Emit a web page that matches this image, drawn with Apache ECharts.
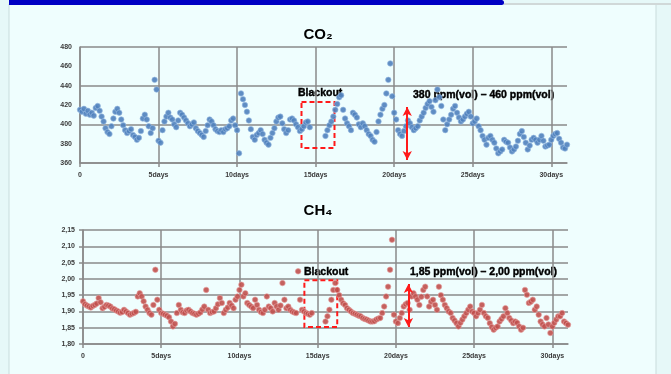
<!DOCTYPE html>
<html><head><meta charset="utf-8">
<script src="https://cdn.jsdelivr.net/npm/echarts@6/dist/echarts.min.js"></script>
<style>html,body{margin:0;padding:0;background:#e6f8f8;}#c{width:671px;height:374px;}</style>
</head><body><div id="c"></div>
<script>
// sampling step of the records (days)
const stepDays = 0.125;
const xTicks = [0, 5, 10, 15, 20, 25, 30];
const co2Ticks = [360, 380, 400, 420, 440, 460, 480];
const ch4Ticks = [1.80, 1.85, 1.90, 1.95, 2.00, 2.05, 2.10, 2.15];

const co2Values = [
415,413,416,411,414,410,412,409,
417,419,414,408,403,396,392,390,
398,406,413,416,412,405,399,394,
391,393,395,389,387,384,386,393,
406,410,405,398,391,396,446,436,
383,381,394,403,408,412,407,405,
400,397,404,412,410,407,404,401,
398,400,402,396,393,391,389,387,
393,399,405,403,399,395,393,392,
394,392,395,396,398,404,406,399,
394,370,432,426,420,413,404,395,
387,384,389,391,394,390,384,381,
379,386,391,396,403,407,408,401,
395,391,394,405,406,404,400,397,
393,395,398,402,403,397,null,null,
null,null,null,null,null,388,394,399,
403,408,415,421,428,430,415,406,
401,398,394,412,410,407,400,397,
401,398,394,390,388,384,382,392,
403,410,416,420,432,446,463,429,
412,405,394,390,388,393,398,404,
401,397,394,396,398,404,408,412,
417,421,424,418,413,425,436,428,
419,405,394,400,405,410,416,419,
412,407,403,405,408,411,413,408,
401,403,406,398,394,388,384,379,
386,388,384,381,375,370,372,374,
384,382,381,376,372,374,377,383,
390,393,387,381,374,378,384,386,
384,381,384,388,383,377,378,379,
384,388,390,391,385,381,376,375,
379
];

const ch4Values = [
1.931,1.922,1.918,1.915,1.912,1.917,1.920,1.924,
1.941,1.928,1.910,1.914,1.920,1.918,1.915,1.909,
1.907,1.903,1.900,1.896,1.898,1.905,1.900,1.895,
1.890,1.893,1.895,1.899,1.946,1.956,1.946,1.931,
1.915,1.905,1.895,1.890,1.920,2.028,1.936,1.905,
1.895,1.893,1.890,1.887,1.882,1.869,1.854,1.862,
1.895,1.920,1.905,1.897,1.895,1.903,1.905,1.900,
1.895,1.893,1.890,1.893,1.897,1.906,1.915,1.966,
1.905,1.895,1.898,1.900,1.910,1.922,1.941,1.926,
1.895,1.905,1.912,1.926,1.918,1.910,1.936,1.946,
1.966,1.982,1.946,1.956,1.926,1.920,1.915,1.910,
1.936,1.920,1.905,1.898,1.895,1.905,1.946,1.915,
1.910,1.900,1.926,1.915,1.905,1.918,1.987,1.936,
1.910,1.915,1.905,1.900,1.897,1.895,2.023,1.936,
1.905,1.900,1.895,1.893,1.890,1.895,null,null,
null,null,null,null,1.869,1.885,1.905,1.936,
1.966,1.987,1.966,1.950,1.936,1.925,1.920,1.910,
1.905,1.900,1.895,1.893,1.890,1.887,1.885,1.880,
1.877,1.875,1.872,1.869,1.869,1.870,1.875,1.878,
1.880,1.895,1.915,1.946,1.976,2.028,2.120,1.890,
1.869,1.864,1.880,1.895,1.915,1.922,1.926,1.905,
1.946,1.956,1.946,1.936,1.920,1.945,1.966,1.976,
1.946,1.915,1.930,1.936,1.920,1.905,1.976,1.950,
1.936,1.920,1.910,1.900,1.895,1.880,1.872,1.864,
1.854,1.865,1.875,1.885,1.895,1.905,1.915,1.900,
1.895,1.885,1.895,1.905,1.920,1.895,1.885,1.880,
1.864,1.852,1.844,1.850,1.854,1.869,1.877,1.885,
1.910,1.895,1.880,1.872,1.864,1.869,1.865,1.854,
1.844,1.850,1.966,1.951,1.926,1.930,1.936,1.905,
1.915,1.890,1.869,1.860,1.854,1.880,1.860,1.834,
1.854,1.865,1.875,1.885,1.885,1.895,1.869,1.864,
1.859
];

// annotations (data coordinates)
const co2Blackout = [[14.1, 423], [16.2, 375.5]];
const ch4Blackout = [[14.15, 1.996], [16.25, 1.852]];
const co2Range = [[20.83, 418], [20.83, 363]];
const ch4Range = [[20.8, 1.984], [20.8, 1.852]];
const co2RangeText = '380 ppm(vol) \u2013 460 ppm(vol)';
const ch4RangeText = '1,85 ppm(vol) \u2013 2,00 ppm(vol)';
const blackoutText = 'Blackout';

const toPairs = vals => vals.map((v, i) => [i * stepDays, v]);

const gridColor = '#8a8a8a';
const lblStyle = {fontSize: 7, fontWeight: 'bold', color: '#3a3a3a', fontFamily: 'Liberation Sans'};

function xAxisCfg(gi) {
  return {
    type: 'value', gridIndex: gi, min: 0, max: 31, interval: 5,
    axisLine: {show: true, lineStyle: {color: gridColor, width: 1.5}},
    axisTick: {show: true, length: 4, customValues: xTicks, lineStyle: {color: gridColor, width: 1.5}},
    splitLine: {show: true, lineStyle: {color: gridColor, width: 1.5}},
    axisLabel: Object.assign({}, lblStyle, {
      margin: 9, customValues: xTicks,
      formatter: v => v === 0 ? '0' : v + 'days'
    })
  };
}

const markAreaCfg = area => ({
  silent: true,
  itemStyle: {color: 'rgba(0,0,0,0)', borderColor: '#ff1a1a', borderWidth: 2, borderType: [5, 3]},
  data: [[{coord: area[0]}, {coord: area[1]}]]
});
const markLineCfg = seg => ({
  silent: true, symbol: ['arrow', 'arrow'], symbolSize: [7, 9],
  lineStyle: {color: '#ff1a1a', width: 2, type: 'solid'},
  label: {show: false},
  data: [[{coord: seg[0]}, {coord: seg[1]}]]
});

const annStyle = {fontWeight: 'bold', fill: '#000', verticalAlign: 'middle', fontFamily: 'Liberation Sans', stroke: '#000', lineWidth: 0.4};

const chart = echarts.init(document.getElementById('c'), null, {renderer: 'canvas'});
chart.setOption({
  animation: false,
  backgroundColor: '#e6f8f8',
  graphic: [
    {type: 'rect', shape: {x: 9, y: 4, width: 647, height: 380}, style: {fill: '#effefe', stroke: '#c9dcdc', lineWidth: 1}, z: -10},
    {type: 'rect', shape: {x: 9, y: 0, width: 495, height: 5, r: [0, 3, 3, 0]}, style: {fill: '#0000c4'}, z: -5},
    {type: 'rect', shape: {x: 504, y: 3, width: 167, height: 2}, style: {fill: '#d0d8d8'}, z: -5},
    {type: 'text', x: 318, y: 35, style: {text: 'CO\u2082', fontSize: 15, fontWeight: 'bold', fill: '#000', align: 'center', verticalAlign: 'middle', fontFamily: 'Liberation Sans'}},
    {type: 'text', x: 318, y: 211, style: {text: 'CH\u2084', fontSize: 15, fontWeight: 'bold', fill: '#000', align: 'center', verticalAlign: 'middle', fontFamily: 'Liberation Sans'}},
    {type: 'text', x: 298, y: 93, style: Object.assign({text: blackoutText, fontSize: 10.5}, annStyle)},
    {type: 'text', x: 413, y: 95, style: Object.assign({text: co2RangeText, fontSize: 10.5}, annStyle)},
    {type: 'text', x: 304, y: 272, style: Object.assign({text: blackoutText, fontSize: 10.5}, annStyle)},
    {type: 'text', x: 410, y: 272, style: Object.assign({text: ch4RangeText, fontSize: 10.5}, annStyle)}
  ],
  grid: [
    {left: 80, top: 47, width: 487, height: 116},
    {left: 83, top: 230, width: 485, height: 114}
  ],
  xAxis: [xAxisCfg(0), xAxisCfg(1)],
  yAxis: [
    {
      type: 'value', gridIndex: 0, min: 360, max: 480, interval: 20,
      axisLine: {show: true, lineStyle: {color: gridColor, width: 1.5}},
      axisTick: {show: false},
      splitLine: {show: true, lineStyle: {color: [gridColor, 'rgba(0,0,0,0)'], width: 1.5}},
      axisLabel: Object.assign({}, lblStyle, {margin: 8})
    },
    {
      type: 'value', gridIndex: 1, min: 1.80, max: 2.15, interval: 0.05,
      axisLine: {show: true, lineStyle: {color: gridColor, width: 1.5}},
      axisTick: {show: true, length: 4, lineStyle: {color: gridColor, width: 1.5}},
      splitLine: {show: true, lineStyle: {color: gridColor, width: 1.5}},
      axisLabel: Object.assign({}, lblStyle, {margin: 8, formatter: v => v.toFixed(2).replace('.', ',')})
    }
  ],
  series: [
    {
      type: 'scatter', xAxisIndex: 0, yAxisIndex: 0, data: toPairs(co2Values),
      symbolSize: 5.5, itemStyle: {color: '#4f81bd', opacity: 0.9, borderColor: 'rgba(150,185,225,0.7)', borderWidth: 1},
      markArea: markAreaCfg(co2Blackout), markLine: markLineCfg(co2Range)
    },
    {
      type: 'scatter', xAxisIndex: 1, yAxisIndex: 1, data: toPairs(ch4Values),
      symbolSize: 5.5, itemStyle: {color: '#c0504d', opacity: 0.9, borderColor: 'rgba(230,160,160,0.7)', borderWidth: 1},
      markArea: markAreaCfg(ch4Blackout), markLine: markLineCfg(ch4Range)
    }
  ]
});
</script></body></html>
